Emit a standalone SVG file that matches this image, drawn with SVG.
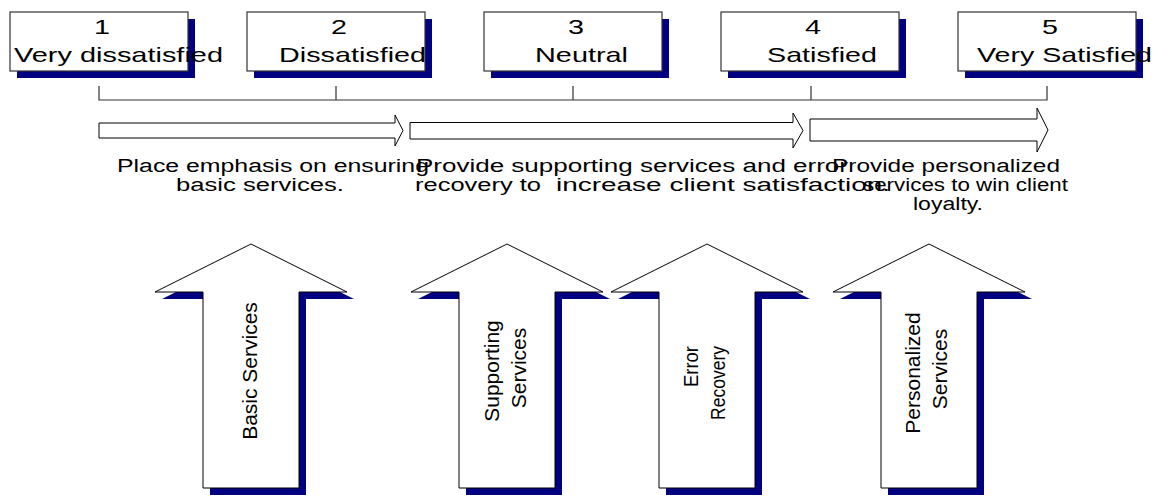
<svg xmlns="http://www.w3.org/2000/svg" width="1158" height="496" viewBox="0 0 1158 496">
  <style>
    .shadow { fill: #000080; }
    .box { fill: #ffffff; stroke: #333333; stroke-width: 1.2; }
    .shape { fill: #ffffff; stroke: #000000; stroke-width: 1; stroke-linejoin: miter; }
    .line { fill: none; stroke: #333333; stroke-width: 1.2; }
    .lbl { font-family: "Liberation Sans", Arial, sans-serif; font-size: 21px; fill: #000000; }
    .desc { font-family: "Liberation Sans", Arial, sans-serif; font-size: 18px; fill: #000000; }
    .vert { font-family: "Liberation Sans", Arial, sans-serif; font-size: 21px; fill: #000000; text-anchor: middle; }
    .vert-top { font-family: "Liberation Sans", Arial, sans-serif; font-size: 21px; fill: #000000; text-anchor: end; }
  </style>
  <defs>
    <polygon id="bigArrow" points="0,0 96,48 48,48 48,244 -48,244 -48,48 -96,48"/>
  </defs>

  <!-- satisfaction scale boxes -->
  <g id="level1">
    <rect class="shadow" x="17" y="19" width="178" height="59"/>
    <rect class="box" x="10" y="12" width="178" height="59"/>
    <text class="lbl" x="94" y="34" textLength="16" lengthAdjust="spacingAndGlyphs">1</text>
    <text class="lbl" x="14" y="62" textLength="209" lengthAdjust="spacingAndGlyphs">Very dissatisfied</text>
  </g>
  <g id="level2">
    <rect class="shadow" x="254" y="19" width="178" height="59"/>
    <rect class="box" x="247" y="12" width="178" height="59"/>
    <text class="lbl" x="331" y="34" textLength="16" lengthAdjust="spacingAndGlyphs">2</text>
    <text class="lbl" x="279" y="62" textLength="147" lengthAdjust="spacingAndGlyphs">Dissatisfied</text>
  </g>
  <g id="level3">
    <rect class="shadow" x="491" y="19" width="178" height="59"/>
    <rect class="box" x="484" y="12" width="178" height="59"/>
    <text class="lbl" x="568" y="34" textLength="16" lengthAdjust="spacingAndGlyphs">3</text>
    <text class="lbl" x="535" y="62" textLength="93" lengthAdjust="spacingAndGlyphs">Neutral</text>
  </g>
  <g id="level4">
    <rect class="shadow" x="728" y="19" width="178" height="59"/>
    <rect class="box" x="721" y="12" width="178" height="59"/>
    <text class="lbl" x="805" y="34" textLength="16" lengthAdjust="spacingAndGlyphs">4</text>
    <text class="lbl" x="767" y="62" textLength="110" lengthAdjust="spacingAndGlyphs">Satisfied</text>
  </g>
  <g id="level5">
    <rect class="shadow" x="965" y="19" width="178" height="59"/>
    <rect class="box" x="958" y="12" width="178" height="59"/>
    <text class="lbl" x="1042" y="34" textLength="16" lengthAdjust="spacingAndGlyphs">5</text>
    <text class="lbl" x="977" y="62" textLength="175" lengthAdjust="spacingAndGlyphs">Very Satisfied</text>
  </g>

  <!-- bracket joining the scale points -->
  <g id="connectors">
    <path class="line" d="M99,86 V100 H1047 V86 M336,86 V100 M573,86 V100 M811,86 V100"/>
  </g>

  <!-- stage arrows -->
  <g id="stage1">
    <polygon class="shape" points="99,123 395,123 395,115 403,130.5 395,146 395,138 99,138"/>
    <text class="desc" x="117" y="172" textLength="312" lengthAdjust="spacingAndGlyphs">Place emphasis on ensuring</text>
    <text class="desc" x="176" y="191" textLength="168" lengthAdjust="spacingAndGlyphs">basic services.</text>
  </g>
  <g id="stage2">
    <polygon class="shape" points="410,122.5 793,122.5 793,113 803,130.5 793,148 793,139 410,139"/>
    <text class="desc" x="416" y="172" textLength="432" lengthAdjust="spacingAndGlyphs">Provide supporting services and error</text>
    <text class="desc" y="191"><tspan x="415" textLength="126" lengthAdjust="spacingAndGlyphs">recovery to</tspan><tspan x="556" textLength="334" lengthAdjust="spacingAndGlyphs">increase client satisfaction.</tspan></text>
  </g>
  <g id="stage3">
    <polygon class="shape" points="810,119 1037,119 1037,108 1048,130 1037,152 1037,141 810,141"/>
    <text class="desc" x="832" y="172" textLength="228" lengthAdjust="spacingAndGlyphs">Provide personalized</text>
    <text class="desc" x="863" y="191" textLength="205" lengthAdjust="spacingAndGlyphs">services to win client</text>
    <text class="desc" x="913" y="210" textLength="70" lengthAdjust="spacingAndGlyphs">loyalty.</text>
  </g>

  <!-- service pillars -->
  <g id="basicServices">
    <use href="#bigArrow" class="shadow" x="258" y="251"/>
    <use href="#bigArrow" class="shape" x="251" y="244"/>
    <text class="vert" transform="translate(257,371) rotate(-90)">Basic Services</text>
  </g>
  <g id="supportingServices">
    <use href="#bigArrow" class="shadow" x="514" y="251"/>
    <use href="#bigArrow" class="shape" x="507" y="244"/>
    <text class="vert" transform="translate(498.5,371) rotate(-90)">Supporting</text>
    <text class="vert" transform="translate(525.5,368) rotate(-90)">Services</text>
  </g>
  <g id="errorRecovery">
    <use href="#bigArrow" class="shadow" x="714" y="251"/>
    <use href="#bigArrow" class="shape" x="707" y="244"/>
    <text class="vert-top" transform="translate(698,346) rotate(-90)" textLength="41" lengthAdjust="spacingAndGlyphs">Error</text>
    <text class="vert-top" transform="translate(725,346) rotate(-90)" textLength="74" lengthAdjust="spacingAndGlyphs">Recovery</text>
  </g>
  <g id="personalizedServices">
    <use href="#bigArrow" class="shadow" x="936" y="251"/>
    <use href="#bigArrow" class="shape" x="929" y="244"/>
    <text class="vert" transform="translate(920,373) rotate(-90)">Personalized</text>
    <text class="vert" transform="translate(947,369) rotate(-90)">Services</text>
  </g>
</svg>
